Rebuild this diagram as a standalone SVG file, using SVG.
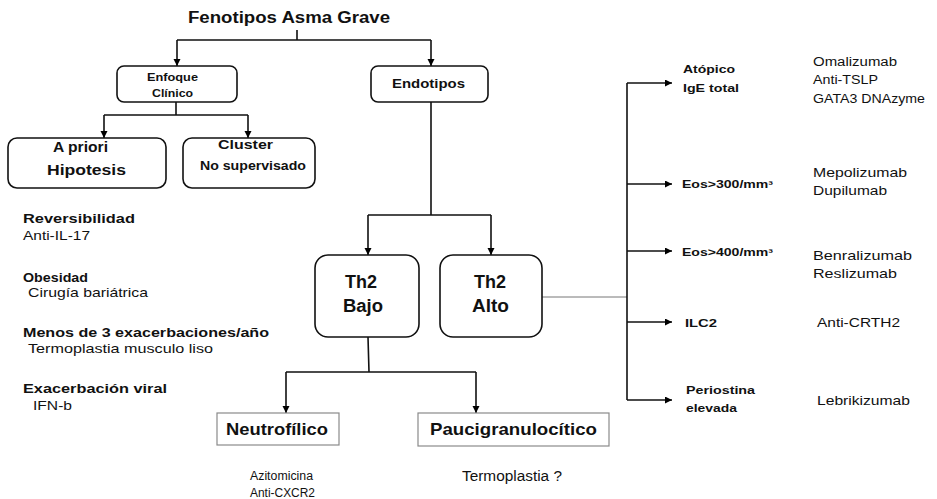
<svg xmlns="http://www.w3.org/2000/svg" width="937" height="499" viewBox="0 0 937 499">
<defs>
<marker id="ah" markerUnits="userSpaceOnUse" markerWidth="8" markerHeight="8" refX="7" refY="3.5" orient="auto">
<path d="M0,0 L7,3.5 L0,7 z" fill="#000"/>
</marker>
<style>
text{font-family:"Liberation Sans",Arial,sans-serif;fill:#111}
.b{font-weight:bold}
.box{fill:#fff;stroke:#111;stroke-width:1.6}
.sq{fill:#fff;stroke:#8a8a8a;stroke-width:1.2}
.ln{fill:none;stroke:#111;stroke-width:1.6}
.ar{fill:none;stroke:#111;stroke-width:1.6;marker-end:url(#ah)}
.thin{fill:none;stroke:#777;stroke-width:1}
</style>
</defs>
<rect width="937" height="499" fill="#fff"/>

<g id="connectors">
<path class="ln" d="M297,30 V40 M177,40 H431"/>
<path class="ar" d="M177,40 V66"/>
<path class="ar" d="M431,40 V66"/>
<path class="ln" d="M176,102 V115 M104,115 H248"/>
<path class="ar" d="M104,115 V138"/>
<path class="ar" d="M248,115 V138"/>
<path class="ln" d="M431,102 V215 M368,215 H491"/>
<path class="ar" d="M368,215 V255"/>
<path class="ar" d="M491,215 V255"/>
<path class="ln" d="M368,337 L369,372 M286,372 H476"/>
<path class="ar" d="M286,372 V413"/>
<path class="ar" d="M476,372 V413"/>
<path class="thin" d="M542,297 H627"/>
<path class="ln" d="M627,83 V400"/>
<path class="ar" d="M627,83 H672"/>
<path class="ar" d="M627,184 H672"/>
<path class="ar" d="M627,251 H672"/>
<path class="ar" d="M627,322 H672"/>
<path class="ar" d="M627,400 H672"/>
</g>

<g id="title">
<text class="b" x="188" y="23" font-size="16" textLength="202" lengthAdjust="spacingAndGlyphs">Fenotipos Asma Grave</text>
</g>

<g id="enfoque">
<rect class="box" x="117" y="66" width="120" height="36" rx="7"/>
<text class="b" x="147" y="81" font-size="11" textLength="51" lengthAdjust="spacingAndGlyphs">Enfoque</text>
<text class="b" x="152" y="97" font-size="11" textLength="41" lengthAdjust="spacingAndGlyphs">Clínico</text>
</g>

<g id="endotipos">
<rect class="box" x="371" y="66" width="117" height="36" rx="7"/>
<text class="b" x="392" y="88" font-size="13" textLength="73" lengthAdjust="spacingAndGlyphs">Endotipos</text>
</g>

<g id="apriori">
<rect class="box" x="8" y="138" width="158" height="50" rx="9"/>
<text class="b" x="53" y="152" font-size="14" textLength="55" lengthAdjust="spacingAndGlyphs">A priori</text>
<text class="b" x="47" y="175" font-size="14" textLength="79" lengthAdjust="spacingAndGlyphs">Hipotesis</text>
</g>

<g id="cluster">
<rect class="box" x="183" y="138" width="132" height="50" rx="9"/>
<text class="b" x="218" y="149" font-size="12" textLength="55" lengthAdjust="spacingAndGlyphs">Cluster</text>
<text class="b" x="200" y="170" font-size="12" textLength="106" lengthAdjust="spacingAndGlyphs">No supervisado</text>
</g>

<g id="th2bajo">
<rect class="box" x="315" y="255" width="104" height="82" rx="13"/>
<text class="b" x="345" y="288" font-size="18" textLength="32" lengthAdjust="spacingAndGlyphs">Th2</text>
<text class="b" x="343" y="312" font-size="18" textLength="40" lengthAdjust="spacingAndGlyphs">Bajo</text>
</g>

<g id="th2alto">
<rect class="box" x="440" y="255" width="102" height="82" rx="13"/>
<text class="b" x="474" y="288" font-size="18" textLength="32" lengthAdjust="spacingAndGlyphs">Th2</text>
<text class="b" x="472" y="312" font-size="18" textLength="37" lengthAdjust="spacingAndGlyphs">Alto</text>
</g>

<g id="neutrofilico">
<rect class="sq" x="217" y="413" width="122" height="32"/>
<text class="b" x="226" y="435" font-size="17" textLength="102" lengthAdjust="spacingAndGlyphs">Neutrofílico</text>
</g>

<g id="paucigranulocitico">
<rect class="sq" x="418" y="413" width="191" height="33"/>
<text class="b" x="430" y="435" font-size="17" textLength="167" lengthAdjust="spacingAndGlyphs">Paucigranulocítico</text>
</g>

<g id="clinical-list" font-size="13">
<text class="b" x="23" y="223" textLength="112" lengthAdjust="spacingAndGlyphs">Reversibilidad</text>
<text x="23" y="240" textLength="67" lengthAdjust="spacingAndGlyphs">Anti-IL-17</text>
<text class="b" x="23" y="282" textLength="65" lengthAdjust="spacingAndGlyphs">Obesidad</text>
<text x="28" y="297" textLength="120" lengthAdjust="spacingAndGlyphs">Cirugía bariátrica</text>
<text class="b" x="23" y="337" textLength="246" lengthAdjust="spacingAndGlyphs">Menos de 3 exacerbaciones/año</text>
<text x="28" y="353" textLength="185" lengthAdjust="spacingAndGlyphs">Termoplastia musculo liso</text>
<text class="b" x="23" y="393" textLength="144" lengthAdjust="spacingAndGlyphs">Exacerbación viral</text>
<text x="33" y="410" textLength="39" lengthAdjust="spacingAndGlyphs">IFN-b</text>
</g>

<g id="low-treatments" font-size="12">
<text x="250" y="480" textLength="63" lengthAdjust="spacingAndGlyphs">Azitomicina</text>
<text x="250" y="497" textLength="65" lengthAdjust="spacingAndGlyphs">Anti-CXCR2</text>
<text x="462" y="481" font-size="14" textLength="100" lengthAdjust="spacingAndGlyphs">Termoplastia ?</text>
</g>

<g id="atopico">
<text class="b" x="683" y="73" font-size="11" textLength="52" lengthAdjust="spacingAndGlyphs">Atópico</text>
<text class="b" x="683" y="92" font-size="11" textLength="56" lengthAdjust="spacingAndGlyphs">IgE total</text>
</g>
<g id="eos300">
<text class="b" x="682" y="188" font-size="10" textLength="91" lengthAdjust="spacingAndGlyphs">Eos&gt;300/mm³</text>
</g>
<g id="eos400">
<text class="b" x="682" y="256" font-size="10" textLength="91" lengthAdjust="spacingAndGlyphs">Eos&gt;400/mm³</text>
</g>
<g id="ilc2">
<text class="b" x="685" y="327" font-size="11" textLength="32" lengthAdjust="spacingAndGlyphs">ILC2</text>
</g>
<g id="periostina">
<text class="b" x="686" y="394" font-size="11" textLength="69" lengthAdjust="spacingAndGlyphs">Periostina</text>
<text class="b" x="686" y="412" font-size="11" textLength="51" lengthAdjust="spacingAndGlyphs">elevada</text>
</g>

<g id="high-treatments" font-size="12">
<text x="813" y="66" textLength="84" lengthAdjust="spacingAndGlyphs">Omalizumab</text>
<text x="813" y="84" textLength="65" lengthAdjust="spacingAndGlyphs">Anti-TSLP</text>
<text x="813" y="103" textLength="112" lengthAdjust="spacingAndGlyphs">GATA3  DNAzyme</text>
<text x="813" y="177" font-size="13" textLength="94" lengthAdjust="spacingAndGlyphs">Mepolizumab</text>
<text x="813" y="195" font-size="13" textLength="74" lengthAdjust="spacingAndGlyphs">Dupilumab</text>
<text x="813" y="260" font-size="13" textLength="99" lengthAdjust="spacingAndGlyphs">Benralizumab</text>
<text x="813" y="278" font-size="13" textLength="84" lengthAdjust="spacingAndGlyphs">Reslizumab</text>
<text x="817" y="327" font-size="13" textLength="83" lengthAdjust="spacingAndGlyphs">Anti-CRTH2</text>
<text x="817" y="405" font-size="13" textLength="93" lengthAdjust="spacingAndGlyphs">Lebrikizumab</text>
</g>
</svg>
